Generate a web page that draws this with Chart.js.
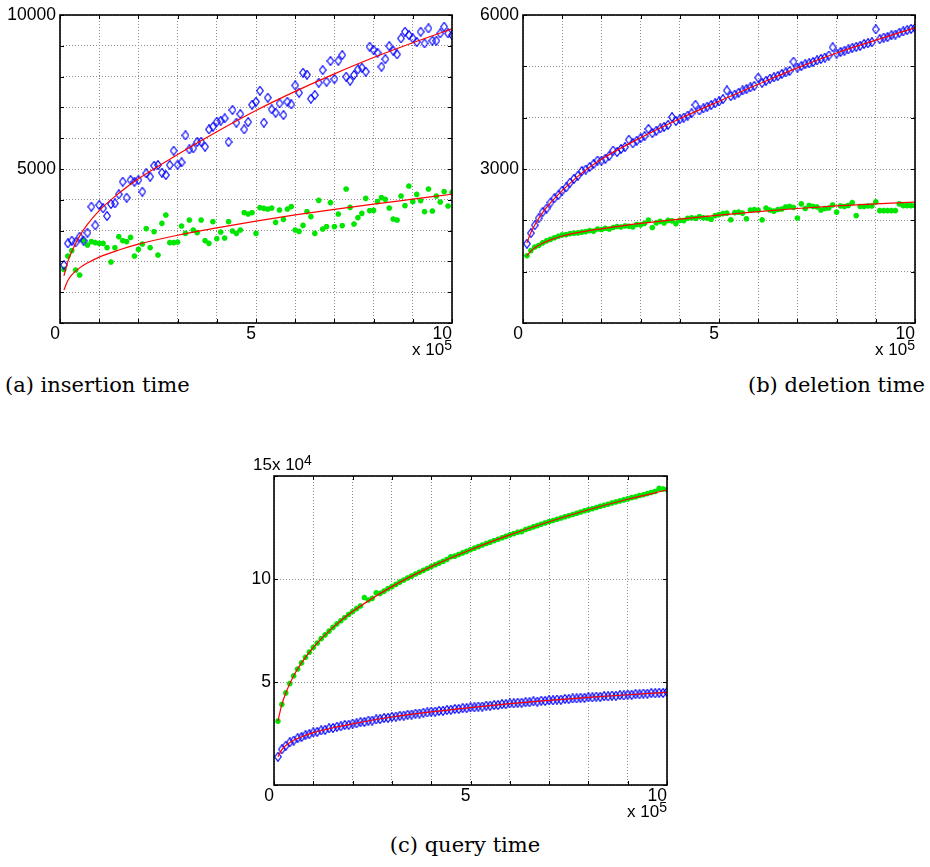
<!DOCTYPE html>
<html>
<head>
<meta charset="utf-8">
<script src="https://cdn.jsdelivr.net/npm/chart.js@4"></script>
<style>
  body { margin: 0; background: #fff; }
  #page { position: relative; width: 930px; height: 867px; overflow: hidden; }
  canvas { position: absolute; }
  .cap { position: absolute; font-family: "DejaVu Serif", serif; font-size: 21px; line-height: 21px; color: #000; white-space: nowrap; }
  .mul { position: absolute; font-family: "Liberation Sans", Arial, sans-serif; font-size: 17px; line-height: 17px; color: #000; white-space: nowrap; }
  .mul span { position: relative; top: -5px; font-size: 14px; }
</style>
</head>
<body>
<div id="page">
  <canvas id="ins" width="470" height="372" style="left:0;top:0"></canvas>
  <canvas id="del" width="460" height="372" style="left:470px;top:0"></canvas>
  <canvas id="qry" width="470" height="355" style="left:220px;top:455px"></canvas>

  <div class="mul" style="left:412px;top:341px">x 10<span>5</span></div>
  <div class="mul" style="left:875px;top:341px">x 10<span>5</span></div>
  <div class="mul" style="left:627px;top:803px">x 10<span>5</span></div>
  <div class="mul" style="left:253px;top:456px">15x 10<span>4</span></div>

  <div class="cap" style="left:5px;top:375px">(a) insertion time</div>
  <div class="cap" style="right:5px;top:375px">(b) deletion time</div>
  <div class="cap" style="left:0;width:930px;text-align:center;top:835px">(c) query time</div>
</div>
<script>
// n in units of 10^5
const n = [0.1,0.2,0.3,0.4,0.5,0.6,0.7,0.8,0.9,1.0,
  1.1,1.2,1.3,1.4,1.5,1.6,1.7,1.8,1.9,2.0,
  2.1,2.2,2.3,2.4,2.5,2.6,2.7,2.8,2.9,3.0,
  3.1,3.2,3.3,3.4,3.5,3.6,3.7,3.8,3.9,4.0,
  4.1,4.2,4.3,4.4,4.5,4.6,4.7,4.8,4.9,5.0,
  5.1,5.2,5.3,5.4,5.5,5.6,5.7,5.8,5.9,6.0,
  6.1,6.2,6.3,6.4,6.5,6.6,6.7,6.8,6.9,7.0,
  7.1,7.2,7.3,7.4,7.5,7.6,7.7,7.8,7.9,8.0,
  8.1,8.2,8.3,8.4,8.5,8.6,8.7,8.8,8.9,9.0,
  9.1,9.2,9.3,9.4,9.5,9.6,9.7,9.8,9.9,10.0];
const fitN = [0.1,0.2,0.3,0.5,0.7,1,1.5,2,3,4,5,6,7,8,9,10];

// (a) insertion time
const insDiamond = [1883,2586,2672,2618,2802,2672,2932,3776,3170,3830,
  3722,3473,3863,3884,4177,4588,4068,4642,4588,4642,
  4263,4858,4750,5107,5128,4880,4804,5128,5594,5140,
  5215,6092,5637,5670,5875,5886,5724,6286,6373,6535,
  6568,6643,5875,6914,6503,6784,6286,6524,7087,7184,
  7542,6503,7314,6936,6827,7130,6752,7184,7098,7715,
  7477,8126,8061,7282,7401,7801,8212,7834,8505,7920,
  8515,8699,7996,7866,8050,8234,8288,8158,8970,8862,
  8775,8321,8569,8991,8840,8721,9240,9457,9348,9240,
  9121,9457,9078,9565,9165,9165,9403,9619,9403,9348];
const insStar = [1742,2175,2348,1720,1558,2672,2532,2640,2608,2586,
  2586,2445,1980,2445,2802,2672,2640,2780,2175,2391,
  2564,3062,2445,2965,2207,3235,3506,2608,2608,2629,
  3149,2911,3343,3019,2932,3343,2672,2586,3289,2737,
  2954,2759,3289,2986,2911,3019,3581,3538,3581,2911,
  3744,3722,3700,3733,3268,3668,3365,3700,3776,3019,
  2976,3170,3614,3452,2911,3982,3051,3127,3906,3127,
  3538,3159,4350,3755,3214,3419,3560,4047,3646,3657,
  3938,4068,4014,3733,3376,3343,4122,3809,4447,3938,
  4177,3971,3614,4350,3636,4122,3928,4263,3798,4241];
const insDiamondFit = [1530,2000,2320,2820,3200,3650,4210,4680,5470,6210,6900,7520,8090,8620,9100,9550];
const insStarFit = [1070,1380,1560,1790,1950,2140,2370,2560,2850,3090,3310,3510,3690,3860,4020,4180];

// (b) deletion time
const delDiamond = [1544,1750,1905,2040,2160,2230,2345,2430,2490,2580,
  2640,2735,2810,2870,2960,2990,3040,3095,3165,3160,
  3200,3255,3360,3330,3390,3425,3570,3500,3550,3600,
  3640,3780,3700,3745,3790,3820,3860,4010,3935,3970,
  4000,4040,4085,4250,4140,4180,4215,4245,4280,4315,
  4360,4530,4420,4450,4485,4530,4555,4590,4620,4780,
  4680,4720,4760,4785,4810,4850,4880,4910,5090,4975,
  5005,5040,5060,5085,5115,5145,5170,5210,5370,5250,
  5280,5305,5330,5360,5380,5400,5435,5450,5470,5720,
  5530,5560,5570,5605,5620,5655,5680,5705,5730,5745];
const delStar = [1310,1410,1480,1510,1560,1600,1630,1660,1690,1715,
  1720,1740,1750,1755,1770,1780,1800,1790,1830,1820,
  1845,1830,1860,1880,1870,1890,1885,1870,1920,1910,
  1940,2005,1860,1950,1980,1950,2000,1990,1935,2000,
  1995,2040,2050,2040,2070,2050,2045,2020,2090,2110,
  2130,2140,2010,2150,2160,2140,2030,2200,2210,2200,
  2010,2240,2200,2180,2210,2220,2260,2270,2250,2045,
  2320,2230,2290,2270,2260,2200,2230,2240,2300,2160,
  2280,2270,2290,2345,2090,2270,2270,2280,2280,2360,
  2190,2190,2190,2190,2190,2320,2285,2285,2285,2285];
const delDiamondFit = [1560,1760,1910,2150,2340,2580,2920,3190,3610,3980,4320,4650,4970,5260,5510,5750];
const delStarFit = [1310,1400,1465,1555,1620,1695,1775,1835,1940,2025,2100,2170,2230,2280,2320,2355];

// (c) query time, in units of 10^4
const qryStar = [3.10,3.91,4.47,4.92,5.30,5.63,5.93,6.20,6.45,6.68,
  6.89,7.10,7.29,7.47,7.65,7.82,7.97,8.12,8.28,8.42,
  8.56,8.69,9.10,8.98,9.06,9.33,9.30,9.41,9.53,9.63,
  9.74,9.85,9.95,10.05,10.14,10.24,10.33,10.42,10.51,10.60,
  10.69,10.77,10.86,10.95,11.08,11.11,11.19,11.27,11.34,11.42,
  11.50,11.57,11.65,11.72,11.79,11.86,11.93,12.00,12.07,12.14,
  12.20,12.27,12.30,12.40,12.46,12.53,12.59,12.66,12.72,12.78,
  12.84,12.90,12.96,13.02,13.07,13.13,13.19,13.25,13.31,13.36,
  13.41,13.47,13.53,13.58,13.63,13.69,13.74,13.79,13.84,13.89,
  13.95,13.99,14.05,14.09,14.15,14.20,14.25,14.40,14.37,14.34];
const qryDiamond = [1.37,1.73,1.91,2.07,2.16,2.27,2.33,2.42,2.47,2.55,
  2.58,2.65,2.68,2.75,2.77,2.83,2.85,2.91,2.92,2.98,
  2.99,3.05,3.06,3.12,3.13,3.18,3.20,3.25,3.26,3.31,
  3.32,3.36,3.37,3.41,3.42,3.46,3.47,3.51,3.52,3.56,
  3.56,3.60,3.60,3.64,3.65,3.69,3.69,3.73,3.73,3.77,
  3.77,3.81,3.81,3.85,3.85,3.88,3.88,3.92,3.92,3.96,
  3.96,3.99,3.99,4.02,4.02,4.06,4.05,4.09,4.08,4.12,
  4.11,4.15,4.14,4.18,4.17,4.20,4.20,4.23,4.23,4.26,
  4.25,4.29,4.28,4.31,4.30,4.34,4.33,4.36,4.35,4.39,
  4.38,4.41,4.40,4.44,4.43,4.46,4.45,4.48,4.47,4.52];
const qryStarFit = [3.10,3.91,4.47,5.30,5.93,6.68,7.65,8.42,9.63,10.60,11.42,12.14,12.78,13.36,13.87,14.32];
const qryDiamondFit = [1.37,1.72,1.92,2.17,2.34,2.54,2.78,2.97,3.30,3.55,3.76,3.95,4.11,4.25,4.38,4.50];

// tick labels
const xLabels = [0, 5, 10];
const insYLabels = [5000, 10000];
const delYLabels = [3000, 6000];
const qryYLabels = [5, 10];

const BLUE = '#0000ff', GREEN = '#00e600', RED = '#ff0000';
const tickFont = { family: 'Liberation Sans', size: 17.5 };
const pts = (xs, ys) => xs.map((x, i) => ({ x, y: ys[i] }));

// matlab-style diamond: a bit taller than wide
function diamondMarker(w, h) {
  const c = document.createElement('canvas');
  c.width = w; c.height = h;
  const g = c.getContext('2d');
  g.strokeStyle = BLUE;
  g.lineWidth = 1.2;
  g.beginPath();
  g.moveTo(w / 2, 0.7); g.lineTo(w - 0.7, h / 2);
  g.lineTo(w / 2, h - 0.7); g.lineTo(0.7, h / 2);
  g.closePath();
  g.stroke();
  return c;
}
const bigDiamond = diamondMarker(8, 10);

const diamonds = ys => ({ data: pts(n, ys), pointStyle: bigDiamond, pointRadius: 4,
  borderColor: BLUE, backgroundColor: 'rgba(0,0,0,0)', borderWidth: 1, order: 2 });
const stars = ys => ({ data: pts(n, ys), pointStyle: 'star', pointRadius: 2.8,
  borderColor: GREEN, backgroundColor: GREEN, borderWidth: 1.8, order: 2 });
const fit = ys => ({ data: pts(fitN, ys), showLine: true, pointRadius: 0, borderColor: RED,
  borderWidth: 1.2, cubicInterpolationMode: 'monotone', order: 0 });

// box around the plot + short inward ticks, like matlab axes
const frame = {
  id: 'frame',
  afterDraw(chart) {
    const { ctx, chartArea: a, scales: { x, y } } = chart;
    ctx.save();
    ctx.strokeStyle = '#000';
    ctx.lineWidth = 1;
    ctx.beginPath();
    x.ticks.forEach(t => {
      const px = Math.round(x.getPixelForValue(t.value)) + 0.5;
      ctx.moveTo(px, a.bottom); ctx.lineTo(px, a.bottom - 4);
      ctx.moveTo(px, a.top); ctx.lineTo(px, a.top + 4);
    });
    y.ticks.forEach(t => {
      const py = Math.round(y.getPixelForValue(t.value)) + 0.5;
      ctx.moveTo(a.left, py); ctx.lineTo(a.left + 4, py);
      ctx.moveTo(a.right, py); ctx.lineTo(a.right - 4, py);
    });
    ctx.stroke();
    ctx.lineWidth = 1.6;
    ctx.strokeRect(a.left, a.top, a.right - a.left, a.bottom - a.top);
    ctx.restore();
  }
};

function plot(id, datasets, o) {
  new Chart(document.getElementById(id), {
    type: 'scatter',
    data: { datasets },
    options: {
      responsive: false,
      animation: false,
      devicePixelRatio: 1,
      layout: { padding: o.padding },
      plugins: { legend: { display: false }, tooltip: { enabled: false } },
      scales: {
        x: {
          type: 'linear', min: 0, max: 10,
          afterFit: s => { s.height = o.xh; },
          grid: { color: '#8c8c8c', lineWidth: 1, drawTicks: false },
          border: { display: false, dash: [1, 2] },
          ticks: {
            stepSize: 1, autoSkip: false, maxRotation: 0, align: 'end', padding: 1,
            font: tickFont, color: '#000',
            callback: v => xLabels.includes(v) ? String(v) : ''
          }
        },
        y: {
          type: 'linear', min: 0, max: o.ymax,
          afterFit: s => { s.width = o.yw; },
          grid: { color: '#8c8c8c', lineWidth: 1, drawTicks: false },
          border: { display: false, dash: [1, 2] },
          ticks: {
            stepSize: o.ystep, autoSkip: false, padding: o.ypad,
            font: tickFont, color: '#000',
            callback: v => o.ylabels.includes(v) ? String(v) : ''
          }
        }
      }
    },
    plugins: [frame]
  });
}

plot('ins', [fit(insDiamondFit), fit(insStarFit), diamonds(insDiamond), stars(insStar)],
  { padding: { top: 15, right: 18, left: 0, bottom: 0 }, xh: 49, yw: 60, ymax: 10000, ystep: 1000, ypad: 4, ylabels: insYLabels });
plot('del', [fit(delDiamondFit), fit(delStarFit), diamonds(delDiamond), stars(delStar)],
  { padding: { top: 15, right: 15, left: 0, bottom: 0 }, xh: 49, yw: 53, ymax: 6000, ystep: 1000, ypad: 4, ylabels: delYLabels });
plot('qry', [fit(qryStarFit), fit(qryDiamondFit), stars(qryStar), diamonds(qryDiamond)],
  { padding: { top: 21, right: 23, left: 0, bottom: 0 }, xh: 25, yw: 54, ymax: 15, ystep: 5, ypad: 3, ylabels: qryYLabels });
</script>
</body>
</html>
